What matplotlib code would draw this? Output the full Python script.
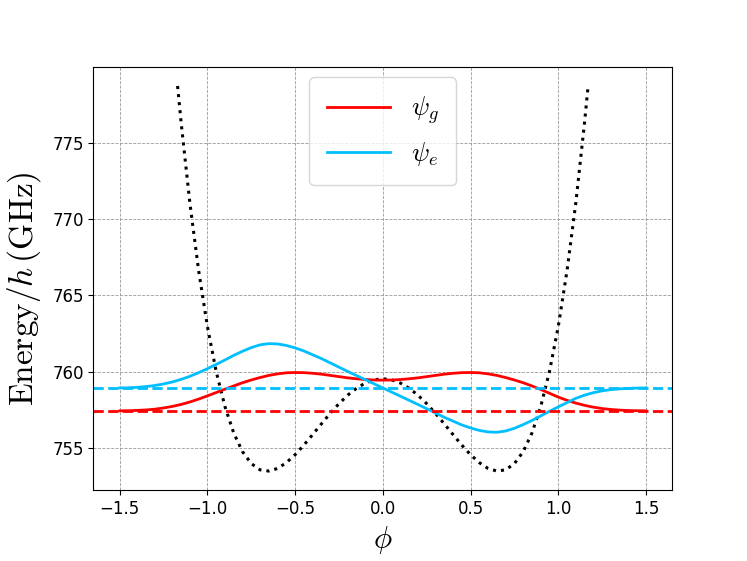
import numpy as np
import matplotlib
matplotlib.use('Agg')
import matplotlib.pyplot as plt

plt.rcParams['mathtext.fontset'] = 'cm'

# flux grid for the wavefunctions
phi = [-1.50, -1.45, -1.40, -1.35, -1.30, -1.25, -1.20, -1.15, -1.10, -1.05,
       -1.00, -0.95, -0.90, -0.85, -0.80, -0.75, -0.70, -0.65, -0.60, -0.55,
       -0.50, -0.45, -0.40, -0.35, -0.30, -0.25, -0.20, -0.15, -0.10, -0.05,
       0.00, 0.05, 0.10, 0.15, 0.20, 0.25, 0.30, 0.35, 0.40, 0.45,
       0.50, 0.55, 0.60, 0.65, 0.70, 0.75, 0.80, 0.85, 0.90, 0.95,
       1.00, 1.05, 1.10, 1.15, 1.20, 1.25, 1.30, 1.35, 1.40, 1.45, 1.50]

# energy levels (GHz)
E_g = 757.45
E_e = 758.95

# wavefunctions (scaled, drawn on top of their level)
psi_g = [0.00, 0.01, 0.03, 0.06, 0.11, 0.19, 0.29, 0.42, 0.58, 0.77,
         0.98, 1.20, 1.42, 1.63, 1.84, 2.02, 2.18, 2.32, 2.42, 2.49,
         2.51, 2.50, 2.46, 2.40, 2.32, 2.24, 2.16, 2.10, 2.05, 2.02,
         2.01, 2.02, 2.05, 2.10, 2.16, 2.24, 2.32, 2.40, 2.46, 2.50,
         2.51, 2.49, 2.42, 2.32, 2.18, 2.02, 1.84, 1.63, 1.40, 1.15,
         0.90, 0.69, 0.51, 0.36, 0.24, 0.15, 0.09, 0.05, 0.02, 0.01, 0.00]

psi_e = [0.00, 0.01, 0.04, 0.09, 0.16, 0.26, 0.39, 0.56, 0.76, 1.00,
         1.26, 1.54, 1.83, 2.13, 2.40, 2.64, 2.82, 2.90, 2.88, 2.78,
         2.62, 2.42, 2.17, 1.92, 1.64, 1.36, 1.08, 0.81, 0.54, 0.27,
         0.00, -0.27, -0.54, -0.81, -1.08, -1.36, -1.64, -1.92, -2.17, -2.42,
         -2.62, -2.78, -2.88, -2.90, -2.82, -2.64, -2.40, -2.13, -1.83, -1.53,
         -1.24, -0.96, -0.68, -0.47, -0.31, -0.19, -0.11, -0.06, -0.03, -0.01, 0.00]

# double well potential (GHz)
phi_pot = [-1.17, -1.15, -1.10, -1.05, -1.00, -0.95, -0.90, -0.85, -0.80, -0.75,
           -0.70, -0.65, -0.60, -0.55, -0.50, -0.45, -0.40, -0.35, -0.30, -0.25,
           -0.20, -0.15, -0.10, -0.05, 0.00, 0.05, 0.10, 0.15, 0.20, 0.25,
           0.30, 0.35, 0.40, 0.45, 0.50, 0.55, 0.60, 0.65, 0.70, 0.75,
           0.80, 0.85, 0.90, 0.95, 1.00, 1.05, 1.10, 1.15, 1.17]
V = [778.71, 776.34, 771.06, 766.63, 762.97, 760.03, 757.73, 756.00, 754.78, 754.00,
     753.59, 753.51, 753.68, 754.06, 754.58, 755.21, 755.90, 756.60, 757.29, 757.92,
     758.48, 758.93, 759.27, 759.48, 759.55, 759.48, 759.27, 758.93, 758.48, 757.92,
     757.29, 756.60, 755.90, 755.21, 754.58, 754.06, 753.68, 753.51, 753.59, 754.00,
     754.78, 756.00, 757.73, 760.03, 762.97, 766.63, 771.06, 776.34, 778.71]

fig, ax = plt.subplots(figsize=(7.47, 5.61), dpi=100)
fig.subplots_adjust(left=0.125, right=0.9, top=0.881, bottom=0.126)

ax.plot(phi_pot, V, color='black', linestyle=':', linewidth=2.2)
ax.plot(phi, E_g + np.array(psi_g), color='red', linewidth=2, label=r'$\psi_g$')
ax.plot(phi, E_e + np.array(psi_e), color='deepskyblue', linewidth=2, label=r'$\psi_e$')
ax.axhline(E_g, color='red', linestyle='--', linewidth=2)
ax.axhline(E_e, color='deepskyblue', linestyle='--', linewidth=2)

ax.set_xlabel(r'$\phi$', fontsize=22)
ax.set_ylabel(r'$\mathrm{Energy}/h\,(\mathrm{GHz})$', fontsize=24)
ax.yaxis.set_label_coords(-0.087, 0.476)
ax.tick_params(labelsize=12)
ax.grid(True, linestyle='--', color='0.6', linewidth=0.6)
ax.legend(loc='upper center', fontsize=19, handlelength=2.4, borderpad=0.65,
          labelspacing=0.52, borderaxespad=0.4)

plt.savefig('out.png', dpi=100)
